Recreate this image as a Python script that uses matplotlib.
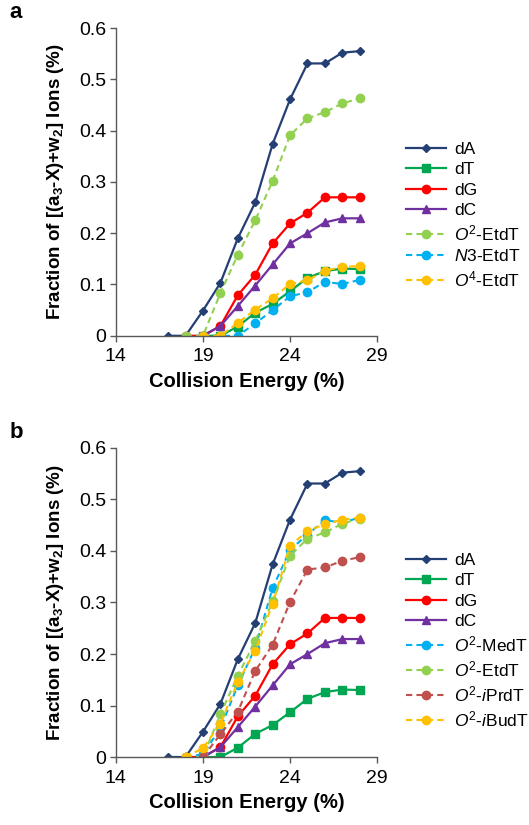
import numpy as np
import matplotlib
matplotlib.use("Agg")
import matplotlib.pyplot as plt
from matplotlib.ticker import FormatStrFormatter

plt.rcParams['font.family'] = ['Liberation Sans', 'DejaVu Sans']
plt.rcParams['mathtext.fontset'] = 'custom'
plt.rcParams['mathtext.rm'] = 'Liberation Sans'
plt.rcParams['mathtext.it'] = 'Liberation Sans:italic'
plt.rcParams['mathtext.bf'] = 'Liberation Sans:bold'

nan = np.nan
energy = [17, 18, 19, 20, 21, 22, 23, 24, 25, 26, 27, 28]

# shared nucleosides
dA = [0, 0, 0.049, 0.103, 0.19, 0.26, 0.374, 0.461, 0.531, 0.531, 0.552, 0.555]
dT = [nan, nan, 0, 0, 0.018, 0.045, 0.062, 0.087, 0.113, 0.126, 0.131, 0.130]
dG = [nan, 0, 0, 0.019, 0.079, 0.119, 0.180, 0.219, 0.240, 0.270, 0.270, 0.270]
dC = [nan, nan, 0, 0.019, 0.058, 0.098, 0.139, 0.180, 0.200, 0.221, 0.229, 0.229]

# panel a
o2_etdt = [nan, 0, 0, 0.083, 0.158, 0.225, 0.302, 0.391, 0.424, 0.436, 0.453, 0.463]
n3_etdt = [nan, nan, 0, 0, 0, 0.024, 0.050, 0.077, 0.085, 0.105, 0.101, 0.109]
o4_etdt = [nan, nan, 0, 0, 0.025, 0.051, 0.073, 0.101, 0.108, 0.127, 0.134, 0.136]

# panel b
o2_medt = [nan, 0, 0.005, 0.056, 0.139, 0.212, 0.328, 0.402, 0.432, 0.460, 0.455, 0.465]
o2_iprdt = [nan, nan, 0, 0.044, 0.088, 0.167, 0.218, 0.301, 0.364, 0.368, 0.381, 0.388]
o2_ibudt = [nan, 0, 0.017, 0.065, 0.146, 0.206, 0.298, 0.410, 0.439, 0.452, 0.461, 0.465]

navy = '#243F73'
green = '#00A651'
red = '#FF0000'
purple = '#7030A0'
lgreen = '#92D050'
cyan = '#00B0F0'
gold = '#FFC000'
brown = '#C0504D'

ylab = r"Fraction of [(a$_\mathbf{3}$-X)+w$_\mathbf{2}$] Ions (%)"

fig = plt.figure(figsize=(5.29, 8.25), dpi=100)


def base_series(ax):
    ax.plot(energy, dA, color=navy, marker='D', ms=4.2, lw=1.6, label='dA')
    ax.plot(energy, dT, color=green, marker='s', ms=5.5, lw=1.6, label='dT')
    ax.plot(energy, dG, color=red, marker='o', ms=6, lw=1.6, label='dG')
    ax.plot(energy, dC, color=purple, marker='^', ms=6, lw=1.6, label='dC')


def dashed(ax, y, c, lab):
    ax.plot(energy, y, color=c, marker='o', ms=6, lw=1.5, ls=(0, (3, 2)), label=lab)


def style(ax, letter, legend_y):
    ax.set_xlim(14, 29)
    ax.set_ylim(0, 0.6)
    ax.set_xticks([14, 19, 24, 29])
    ax.set_yticks(np.arange(0, 0.61, 0.1))
    ax.yaxis.set_major_formatter(FormatStrFormatter('%g'))
    for s in ['top', 'right']:
        ax.spines[s].set_visible(False)
    for s in ['left', 'bottom']:
        ax.spines[s].set_color('#595959')
        ax.spines[s].set_linewidth(1.0)
    ax.tick_params(direction='out', length=4, width=1.0, color='#595959', labelsize=14, pad=3)
    ax.tick_params(axis='x', pad=5)
    ax.set_xlabel('Collision Energy (%)', fontsize=14.5, fontweight='bold', labelpad=5)
    ax.set_ylabel(ylab, fontsize=13.5, fontweight='bold', labelpad=9)
    ax.legend(loc='upper left', bbox_to_anchor=(0.767, legend_y), bbox_transform=fig.transFigure,
              frameon=False, fontsize=12.5, handlelength=2.3, handletextpad=0.5,
              labelspacing=0.3, borderaxespad=0, borderpad=0)
    fig.text(0.018, ax.get_position().y1 + 0.012, letter, fontsize=16, fontweight='bold')


ax1 = fig.add_axes([0.219, 0.593, 0.494, 0.373])
base_series(ax1)
dashed(ax1, o2_etdt, lgreen, r'$\mathit{O}^{2}$-EtdT')
dashed(ax1, n3_etdt, cyan, r'$\mathit{N}$3-EtdT')
dashed(ax1, o4_etdt, gold, r'$\mathit{O}^{4}$-EtdT')
style(ax1, 'a', 0.828)

ax2 = fig.add_axes([0.219, 0.0824, 0.494, 0.3746])
base_series(ax2)
dashed(ax2, o2_medt, cyan, r'$\mathit{O}^{2}$-MedT')
dashed(ax2, o2_etdt, lgreen, r'$\mathit{O}^{2}$-EtdT')
dashed(ax2, o2_iprdt, brown, r'$\mathit{O}^{2}$-$\mathit{i}$PrdT')
dashed(ax2, o2_ibudt, gold, r'$\mathit{O}^{2}$-$\mathit{i}$BudT')
style(ax2, 'b', 0.330)

fig.savefig('out.png', dpi=100)
